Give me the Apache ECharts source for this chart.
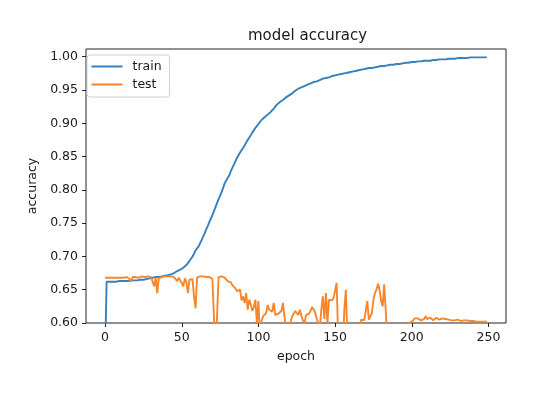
<!DOCTYPE html>
<html>
<head>
<meta charset="utf-8">
<script src="https://cdn.jsdelivr.net/npm/echarts@6/dist/echarts.min.js"></script>
<style>html,body{margin:0;padding:0;background:#fff;}#chart{width:560px;height:395px;}</style>
</head>
<body>
<div id="chart"></div>
<script>
var titleText = "model accuracy";
var xName = "epoch";
var yName = "accuracy";
var seriesNames = ["train", "test"];
var xTicks = [0, 50, 100, 150, 200, 250];
var yTicks = [0.60, 0.65, 0.70, 0.75, 0.80, 0.85, 0.90, 0.95, 1.00];

var train = [
0.550,0.662,0.662,0.662,0.662,0.662,0.662,0.662,0.662,0.663,
0.663,0.663,0.663,0.663,0.663,0.663,0.663,0.664,0.664,0.664,
0.664,0.664,0.665,0.665,0.665,0.665,0.666,0.666,0.666,0.667,
0.667,0.668,0.668,0.669,0.669,0.669,0.670,0.670,0.671,0.671,
0.672,0.672,0.673,0.673,0.674,0.675,0.676,0.678,0.679,0.680,
0.681,0.683,0.685,0.687,0.690,0.693,0.696,0.700,0.704,0.709,
0.712,0.715,0.720,0.725,0.730,0.735,0.741,0.746,0.752,0.757,
0.762,0.768,0.774,0.780,0.786,0.791,0.797,0.803,0.810,0.814,
0.818,0.822,0.828,0.833,0.838,0.843,0.848,0.852,0.856,0.859,
0.863,0.867,0.871,0.875,0.878,0.882,0.886,0.889,0.893,0.896,
0.899,0.902,0.905,0.907,0.909,0.911,0.913,0.915,0.917,0.920,
0.922,0.925,0.928,0.930,0.932,0.934,0.935,0.937,0.939,0.940,
0.942,0.943,0.945,0.947,0.949,0.951,0.952,0.953,0.954,0.955,
0.956,0.957,0.958,0.959,0.960,0.961,0.962,0.963,0.963,0.964,
0.965,0.966,0.967,0.967,0.968,0.968,0.969,0.970,0.971,0.971,
0.972,0.972,0.973,0.973,0.974,0.974,0.975,0.975,0.976,0.976,
0.977,0.977,0.978,0.978,0.979,0.979,0.980,0.980,0.981,0.981,
0.982,0.982,0.983,0.983,0.983,0.984,0.984,0.985,0.985,0.985,
0.986,0.986,0.986,0.987,0.987,0.987,0.988,0.988,0.988,0.988,
0.989,0.989,0.989,0.990,0.990,0.990,0.991,0.991,0.991,0.991,
0.992,0.992,0.992,0.992,0.993,0.993,0.993,0.993,0.994,0.994,
0.994,0.994,0.994,0.995,0.995,0.995,0.995,0.995,0.996,0.996,
0.996,0.996,0.996,0.997,0.997,0.997,0.997,0.997,0.997,0.998,
0.998,0.998,0.998,0.998,0.998,0.998,0.998,0.999,0.999,0.999,
0.999,0.999,0.999,0.999,0.999,0.999,0.999,0.999,0.999,0.999
];

var test = [
0.668,0.668,0.668,0.668,0.668,0.668,0.668,0.669,0.668,0.668,
0.668,0.668,0.668,0.668,0.669,0.668,0.666,0.662,0.669,0.670,
0.669,0.669,0.668,0.669,0.670,0.668,0.669,0.668,0.670,0.668,
0.669,0.666,0.655,0.668,0.645,0.667,0.670,0.669,0.671,0.670,
0.669,0.670,0.669,0.670,0.668,0.669,0.667,0.663,0.668,0.666,
0.660,0.655,0.667,0.662,0.645,0.665,0.663,0.666,0.640,0.622,
0.668,0.670,0.670,0.669,0.670,0.670,0.669,0.670,0.669,0.668,
0.666,0.664,0.550,0.550,0.669,0.670,0.670,0.669,0.668,0.665,
0.663,0.660,0.661,0.657,0.655,0.652,0.648,0.645,0.650,0.634,
0.640,0.630,0.645,0.620,0.635,0.628,0.618,0.624,0.635,0.600,
0.633,0.580,0.603,0.610,0.612,0.615,0.627,0.620,0.618,0.617,
0.630,0.612,0.610,0.614,0.612,0.618,0.630,0.610,0.590,0.580,
0.590,0.602,0.610,0.614,0.618,0.621,0.612,0.620,0.611,0.604,
0.598,0.612,0.615,0.614,0.618,0.624,0.625,0.616,0.606,0.600,
0.590,0.620,0.640,0.606,0.645,0.600,0.635,0.637,0.634,0.638,
0.636,0.660,0.580,0.560,0.560,0.560,0.620,0.650,0.580,0.560,
0.560,0.560,0.560,0.560,0.560,0.560,0.560,0.605,0.607,0.604,
0.606,0.633,0.605,0.610,0.615,0.635,0.645,0.650,0.659,0.650,
0.633,0.625,0.658,0.655,0.580,0.560,0.560,0.560,0.560,0.560,
0.560,0.560,0.560,0.560,0.560,0.560,0.560,0.560,0.600,0.601,
0.602,0.604,0.607,0.608,0.607,0.606,0.604,0.605,0.606,0.610,
0.606,0.604,0.608,0.606,0.604,0.607,0.608,0.605,0.605,0.606,
0.607,0.605,0.606,0.604,0.605,0.605,0.604,0.605,0.604,0.604,
0.605,0.604,0.603,0.604,0.604,0.603,0.604,0.603,0.603,0.603,
0.603,0.603,0.602,0.603,0.602,0.602,0.602,0.602,0.602,0.602
];

var colors = ["#3581bd", "#f7862a"];
var font = "DejaVu Sans";
var txt = "#1a1a1a";

function pairs(arr) { return arr.map(function (v, i) { return [i, v]; }); }

var chart = echarts.init(document.getElementById('chart'), null, {renderer: 'canvas'});
chart.setOption({
  animation: false,
  backgroundColor: '#fff',
  textStyle: {fontFamily: font},
  grid: {left: 86, right: 54, top: 49, bottom: 72, show: true, borderColor: '#222', borderWidth: 1, backgroundColor: 'transparent'},
  graphic: [{
    type: 'text', left: 296 - 48, top: 29,
    style: {text: titleText, font: '15px "DejaVu Sans"', fill: txt}
  }],
  legend: {
    left: 87, top: 55, orient: 'vertical',
    icon: 'rect', itemWidth: 31, itemHeight: 2, itemGap: 3,
    padding: [4, 8, 5, 4.5],
    borderColor: '#d0d0d0', borderWidth: 1, borderRadius: 3,
    textStyle: {fontFamily: font, fontSize: 12.5, color: txt, lineHeight: 15, padding: [0, 0, 0, 5]},
    data: seriesNames
  },
  xAxis: {
    type: 'value', min: -12.45, max: 261.45,
    name: xName, nameLocation: 'middle', nameGap: 27,
    nameTextStyle: {fontFamily: font, fontSize: 12.5, color: txt},
    splitLine: {show: false},
    axisLine: {show: false, onZero: false},
    axisTick: {show: true, length: 4, lineStyle: {color: '#222'}, customValues: xTicks},
    axisLabel: {fontFamily: font, fontSize: 12.5, color: txt, margin: 8, customValues: xTicks,
      formatter: function (v) { return String(v); }}
  },
  yAxis: {
    type: 'value', min: 0.60, max: 1.0116,
    name: yName, nameLocation: 'middle', nameGap: 38,
    nameTextStyle: {fontFamily: font, fontSize: 12.5, color: txt},
    splitLine: {show: false},
    axisLine: {show: false, onZero: false},
    axisTick: {show: true, length: 4, lineStyle: {color: '#222'}, customValues: yTicks},
    axisLabel: {fontFamily: font, fontSize: 12.5, color: txt, margin: 8, customValues: yTicks,
      formatter: function (v) { return v.toFixed(2); }}
  },
  series: [
    {name: seriesNames[0], type: 'line', data: pairs(train), showSymbol: false, symbol: 'none', clip: true,
      lineStyle: {width: 1.9, color: colors[0]}, itemStyle: {color: colors[0]}},
    {name: seriesNames[1], type: 'line', data: pairs(test), showSymbol: false, symbol: 'none', clip: true,
      lineStyle: {width: 1.9, color: colors[1]}, itemStyle: {color: colors[1]}}
  ]
});
</script>
</body>
</html>
